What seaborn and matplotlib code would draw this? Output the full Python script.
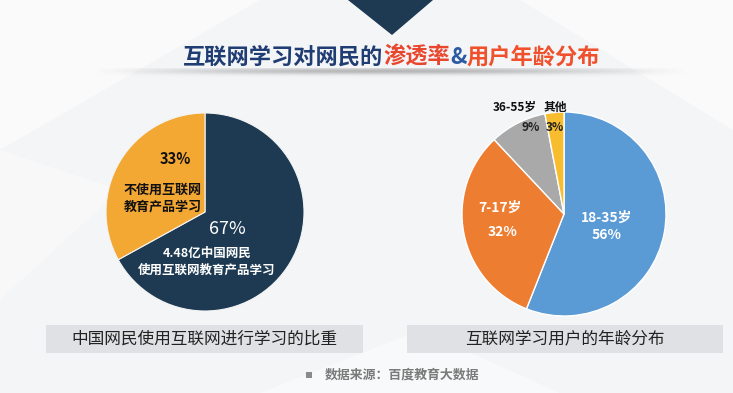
import numpy as np
import matplotlib
matplotlib.use("Agg")
import matplotlib.pyplot as plt
from matplotlib.patches import Rectangle, Polygon
import seaborn as sns

# ---------------- data ----------------
left_labels = ["使用互联网教育产品学习", "不使用互联网教育产品学习"]
left_values = [67, 33]
left_colors = ["#1d3a52", "#f2a833"]

right_labels = ["18-35岁", "7-17岁", "36-55岁", "其他"]
right_values = [56, 32, 9, 3]
right_colors = ["#5b9bd5", "#ed7d31", "#a9a9a9", "#f7bd2e"]

title_parts = ["互联网学习对网民的", "渗透率", "&", "用户年龄分布"]
title_colors = ["#1f3d72", "#e8472e", "#2b5aa3", "#f0502c"]
left_caption = "中国网民使用互联网进行学习的比重"
right_caption = "互联网学习用户的年龄分布"
source_text = "数据来源：百度教育大数据"

# ---------------- style ----------------
sns.set_theme(style="white")
plt.rcParams['font.family'] = ['Noto Sans CJK SC', 'DejaVu Sans']

W, H = 733, 393
fig = plt.figure(figsize=(W / 100, H / 100), dpi=100, facecolor="#f4f5f7")

# overlay axes in pixel coordinates
bg = fig.add_axes([0, 0, 1, 1], zorder=0)
bg.axis("off")

# faint background facets
for pts, c in [
    ([(0, 0), (260, 0), (0, 150)], "#fafafb"),
    ([(0, 150), (120, 190), (0, 300)], "#f8f8f9"),
    ([(520, 0), (733, 0), (733, 130)], "#fafafb"),
    ([(260, 393), (420, 330), (560, 393)], "#f8f9fa"),
]:
    bg.add_patch(Polygon(pts, closed=True, facecolor=c, edgecolor="none", zorder=0))

# top triangle
bg.add_patch(Polygon([(348, 0), (433, 0), (392, 35)], closed=True,
                     facecolor="#1d3a52", edgecolor="none", zorder=2))

# shadow band under title
xs = np.linspace(0, 1, 400)
ys = np.linspace(0, 1, 20)
hx = np.sin(np.pi * xs) ** 1.2
vy = np.exp(-((ys - 0.25) / 0.28) ** 2)
alpha = np.outer(vy, hx) * 0.6
img = np.zeros((20, 400, 4))
img[..., :3] = 0.55
img[..., 3] = alpha
bg.imshow(img, extent=(90, 690, 80, 68), aspect="auto", zorder=1, interpolation="bilinear")
bg.set_xlim(0, W)
bg.set_ylim(H, 0)

# caption bars
bg.add_patch(Rectangle((46, 325), 317, 28, facecolor="#e0e1e4", edgecolor="none", zorder=2))
bg.add_patch(Rectangle((407, 325), 316, 28, facecolor="#e0e1e4", edgecolor="none", zorder=2))
bg.text(204, 339, left_caption, ha="center", va="center", fontsize=12, color="#222222", zorder=3)
bg.text(565, 339, right_caption, ha="center", va="center", fontsize=12, color="#222222", zorder=3)

# source
bg.add_patch(Rectangle((306, 372), 6, 6, facecolor="#8a8a8a", edgecolor="none", zorder=3))
bg.text(325, 375, source_text, ha="left", va="center", fontsize=9.3,
        fontweight="bold", color="#7a7a7a", zorder=3)

# ---------------- title (multi-colour) ----------------
fig.canvas.draw()
renderer = fig.canvas.get_renderer()
x = 183
for part, col in zip(title_parts, title_colors):
    t = bg.text(x, 57, part, ha="left", va="center", fontsize=16,
                fontweight="bold", color=col, zorder=3)
    bb = t.get_window_extent(renderer=renderer)
    x += bb.width  # 1 px == 1 data unit in bg axes

# ---------------- pies ----------------
def pie_axes(cx, cy, r):
    ax = fig.add_axes([(cx - r) / W, 1 - (cy + r) / H, 2 * r / W, 2 * r / H], zorder=5)
    ax.set_xlim(-1, 1)
    ax.set_ylim(-1, 1)
    ax.set_aspect("equal")
    ax.axis("off")
    return ax

axL = pie_axes(205, 212, 99)
axL.pie(left_values, colors=left_colors, startangle=90, counterclock=False,
        radius=1, wedgeprops=dict(edgecolor="#f4f4f4", linewidth=0.8))
axL.set_xlim(-1, 1); axL.set_ylim(-1, 1)
axL.text(-0.30, 0.535, f"{left_values[1]}%", ha="center", va="center",
         fontsize=10.5, fontweight="bold", color="#111111")
axL.text(-0.43, 0.14, "不使用互联网\n教育产品学习", ha="center", va="center",
         fontsize=9.4, fontweight="bold", color="#111111", linespacing=1.25)
axL.text(0.23, -0.17, f"{left_values[0]}%", ha="center", va="center",
         fontsize=13, color="white")
axL.text(0.02, -0.42, "4.48亿中国网民", ha="center", va="center",
         fontsize=9, fontweight="bold", color="white")
axL.text(0.02, -0.59, "使用互联网教育产品学习", ha="center", va="center",
         fontsize=9, fontweight="bold", color="white")

axR = pie_axes(564, 214, 102)
axR.pie(right_values, colors=right_colors, startangle=90, counterclock=False,
        radius=1, wedgeprops=dict(edgecolor="white", linewidth=1.0))
axR.set_xlim(-1, 1); axR.set_ylim(-1, 1)
axR.text(-0.48, 1.05, right_labels[2], ha="center", va="center",
         fontsize=8.5, fontweight="bold", color="#111111")
axR.text(-0.09, 1.05, right_labels[3], ha="center", va="center",
         fontsize=8.5, fontweight="bold", color="#111111")
axR.text(-0.33, 0.85, f"{right_values[2]}%", ha="center", va="center",
         fontsize=8.5, fontweight="bold", color="#222222")
axR.text(-0.09, 0.85, f"{right_values[3]}%", ha="center", va="center",
         fontsize=8.5, fontweight="bold", color="#222222")
axR.text(-0.63, 0.06, right_labels[1], ha="center", va="center",
         fontsize=10, fontweight="bold", color="white")
axR.text(-0.60, -0.18, f"{right_values[1]}%", ha="center", va="center",
         fontsize=10, fontweight="bold", color="white")
axR.text(0.42, -0.04, right_labels[0], ha="center", va="center",
         fontsize=10, fontweight="bold", color="white")
axR.text(0.42, -0.21, f"{right_values[0]}%", ha="center", va="center",
         fontsize=10, fontweight="bold", color="white")

fig.savefig("out.png", dpi=100, facecolor=fig.get_facecolor())
